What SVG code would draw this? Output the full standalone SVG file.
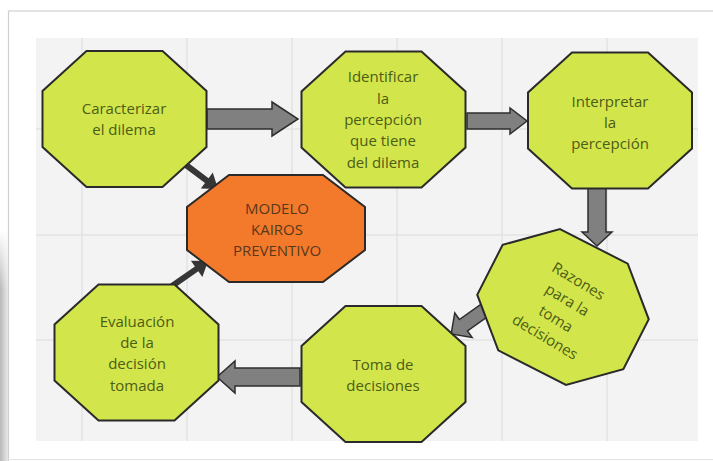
<svg xmlns="http://www.w3.org/2000/svg" width="713" height="461" viewBox="0 0 713 461">
<defs>
<style>
.oct{fill:#d2e64b;stroke:#2a2a2a;stroke-width:2;stroke-linejoin:miter}
.core{fill:#f47a2b;stroke:#2a2a2a;stroke-width:2}
.t{font-family:"Open Sans","DejaVu Sans",sans-serif;font-size:15px;fill:#4d5c16;text-anchor:middle}
.tc{font-family:"Open Sans","DejaVu Sans",sans-serif;font-size:15px;fill:#57381c;text-anchor:middle}
.blk{fill:#808080;stroke:#2e2e2e;stroke-width:1.5;stroke-linejoin:miter}
.thin{fill:#363636;stroke:none}
.grid{stroke:#e3e3e3;stroke-width:1.5}
</style>
<path id="o" d="M-38,-68 L38,-68 L82,-28 L82,28 L38,68 L-38,68 L-82,28 L-82,-28 Z"/>
<linearGradient id="sh" x1="0" y1="0" x2="1" y2="0">
<stop offset="0" stop-color="#b8b8b8"/>
<stop offset="1" stop-color="#f0f0f0"/>
</linearGradient>
<linearGradient id="shv" x1="0" y1="0" x2="0" y2="1">
<stop offset="0" stop-color="#ffffff" stop-opacity="1"/>
<stop offset="1" stop-color="#ffffff" stop-opacity="0"/>
</linearGradient>
</defs>
<rect x="0" y="0" width="713" height="461" fill="#ffffff"/>
<rect x="0" y="230" width="9" height="231" fill="url(#sh)"/>
<rect x="0" y="230" width="9" height="60" fill="url(#shv)"/>
<line x1="8" y1="11" x2="713" y2="11" stroke="#c8c8c8" stroke-width="1.2"/>
<line x1="8.5" y1="11" x2="8.5" y2="461" stroke="#d0d0d0" stroke-width="1.2"/>
<line x1="8" y1="459.5" x2="713" y2="459.5" stroke="#e2e2e2" stroke-width="1.2"/>
<rect x="36" y="38" width="662" height="403" fill="#f3f3f3"/>
<g id="grid">
<line class="grid" x1="82" y1="38" x2="82" y2="441"/>
<line class="grid" x1="187" y1="38" x2="187" y2="441"/>
<line class="grid" x1="292" y1="38" x2="292" y2="441"/>
<line class="grid" x1="397" y1="38" x2="397" y2="441"/>
<line class="grid" x1="502" y1="38" x2="502" y2="441"/>
<line class="grid" x1="607" y1="38" x2="607" y2="441"/>
<line class="grid" x1="36" y1="129" x2="698" y2="129"/>
<line class="grid" x1="36" y1="235" x2="698" y2="235"/>
<line class="grid" x1="36" y1="340" x2="698" y2="340"/>
</g>
<g id="connectors">
<polygon class="blk" transform="translate(207,119)" points="0,-10 65,-10 65,-17 91,0 65,17 65,10 0,10"/>
<polygon class="blk" transform="translate(467,121)" points="0,-8 43,-8 43,-13 60,0 43,13 43,8 0,8"/>
<polygon class="blk" transform="translate(597,188) rotate(90)" points="0,-9 44,-9 44,-15 58,0 44,15 44,9 0,9"/>
<polygon class="blk" transform="translate(492,305) rotate(144.7)" points="0,-7 35,-7 35,-15 50,0 35,15 35,7 0,7"/>
<polygon class="blk" transform="translate(300,377) rotate(180)" points="0,-9 65,-9 65,-16 83,0 65,16 65,9 0,9"/>
<polygon class="thin" transform="translate(186,165) rotate(36.9)" points="0,-3 26,-3 26,-10 40,0 26,10 26,3 0,3"/>
<polygon class="thin" transform="translate(172,286) rotate(-34.8)" points="0,-3 30,-3 30,-10 44,0 30,10 30,3 0,3"/>
</g>
<g id="n1">
<use href="#o" class="oct" transform="translate(124.5,119)"/>
<text class="t" x="124" y="114">Caracterizar</text>
<text class="t" x="124" y="135">el dilema</text>
</g>
<g id="n2">
<use href="#o" class="oct" transform="translate(383.5,119.5)"/>
<text class="t" x="383" y="82">Identificar</text>
<text class="t" x="383" y="104">la</text>
<text class="t" x="383" y="125">percepción</text>
<text class="t" x="383" y="146">que tiene</text>
<text class="t" x="383" y="168">del dilema</text>
</g>
<g id="n3">
<use href="#o" class="oct" transform="translate(610,120.5)"/>
<text class="t" x="610" y="107">Interpretar</text>
<text class="t" x="610" y="128">la</text>
<text class="t" x="610" y="149">percepción</text>
</g>
<g id="core">
<path class="core" d="M229,175 L323,175 L365,207 L365,250 L323,282 L229,282 L187,250 L187,207 Z"/>
<text class="tc" x="277" y="214">MODELO</text>
<text class="tc" x="277" y="235">KAIROS</text>
<text class="tc" x="277" y="256">PREVENTIVO</text>
</g>
<g id="n4" transform="translate(563,307) rotate(27)">
<use href="#o" class="oct"/>
<g transform="rotate(4)">
<text class="t" x="0" y="-25">Razones</text>
<text class="t" x="0" y="-3">para la</text>
<text class="t" x="0" y="19">toma</text>
<text class="t" x="0" y="40">decisiones</text>
</g>
</g>
<g id="n5">
<use href="#o" class="oct" transform="translate(383.5,374)"/>
<text class="t" x="383" y="370">Toma de</text>
<text class="t" x="383" y="391">decisiones</text>
</g>
<g id="n6">
<use href="#o" class="oct" transform="translate(136.5,352.5)"/>
<text class="t" x="137" y="327">Evaluación</text>
<text class="t" x="137" y="348">de la</text>
<text class="t" x="137" y="369">decisión</text>
<text class="t" x="137" y="391">tomada</text>
</g>
</svg>
